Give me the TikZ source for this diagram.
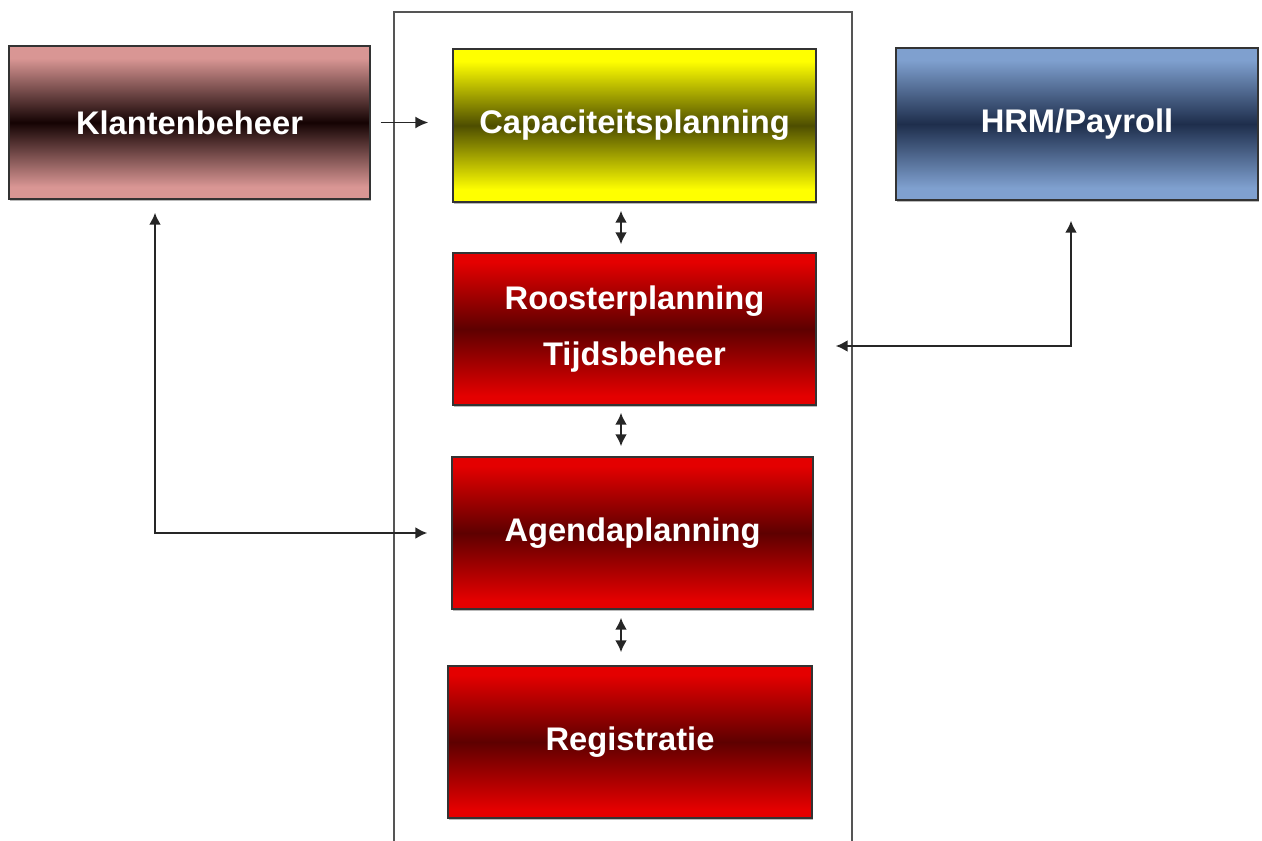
\documentclass[tikz,border=0pt]{standalone}
\usepackage{fontspec}
\setmainfont{Liberation Sans}
\usetikzlibrary{arrows.meta,shadows}

\definecolor{roze}{HTML}{D99694}
\definecolor{rozedonker}{HTML}{140303}
\definecolor{geel}{HTML}{FFFF00}
\definecolor{geeldonker}{HTML}{4E4E00}
\definecolor{blauw}{HTML}{7FA0CF}
\definecolor{blauwdonker}{HTML}{1E2E4C}
\definecolor{rood}{HTML}{E40000}
\definecolor{rooddonker}{HTML}{5E0000}
\definecolor{kader}{HTML}{555555}

% verloop: licht aan de randen, donker in het midden
\pgfdeclareverticalshading{bandroze}{100bp}{color(0bp)=(roze); color(29bp)=(roze); color(50bp)=(rozedonker); color(71bp)=(roze); color(100bp)=(roze)}
\pgfdeclareverticalshading{bandgeel}{100bp}{color(0bp)=(geel); color(29bp)=(geel); color(50bp)=(geeldonker); color(71bp)=(geel); color(100bp)=(geel)}
\pgfdeclareverticalshading{bandblauw}{100bp}{color(0bp)=(blauw); color(29bp)=(blauw); color(50bp)=(blauwdonker); color(71bp)=(blauw); color(100bp)=(blauw)}
\pgfdeclareverticalshading{bandrood}{100bp}{color(0bp)=(rood); color(28bp)=(rood); color(50bp)=(rooddonker); color(72bp)=(rood); color(100bp)=(rood)}

\begin{document}
\begin{tikzpicture}[x=0.02cm, y=-0.02cm,
    blok/.style={draw=black!80, line width=0.8pt, minimum width=7.24cm, minimum height=3.04cm,
      text=white, align=center, font=\fontsize{18.6}{32}\selectfont\bfseries,
      drop shadow={shadow xshift=0.5pt, shadow yshift=-1pt, fill=black!55}},
    pijl/.style={draw=black!85, line width=1.1pt, -{Latex[length=2.6mm,width=2.4mm]}},
    dubbel/.style={draw=black!85, line width=1.3pt, {Latex[length=2.4mm,width=2.4mm]}-{Latex[length=2.4mm,width=2.4mm]}}]

  \useasboundingbox (0,0) rectangle (1262,841);

  % kader om de planningsmodules
  \draw[kader, line width=1.6pt] (394,841) -- (394,12) -- (852,12) -- (852,841);

  % blokken
  \node[blok, minimum width=7.22cm, minimum height=3.06cm, shading=bandroze] (klant) at (189.5,122.5) {Klantenbeheer};
  \node[blok, minimum width=7.26cm, minimum height=3.06cm, shading=bandgeel] (capac) at (634.5,125.5) {Capaciteitsplanning};
  \node[blok, shading=bandblauw] (hrm) at (1077,124) {HRM/Payroll};
  \node[blok, minimum width=7.26cm, shading=bandrood] (rooster) at (634.5,329) {Roosterplanning\\Tijdsbeheer};
  \node[blok, minimum width=7.22cm, shading=bandrood] (agenda) at (632.5,533) {Agendaplanning};
  \node[blok, minimum width=7.28cm, shading=bandrood] (regis) at (630,742) {Registratie};

  % verbindingen
  \draw[pijl, shorten <=0.2cm, shorten >=0.48cm] (klant.east) -- (capac.west |- klant.east);
  \draw[dubbel, shorten <=0.16cm, shorten >=0.16cm] (capac.south -| 621,0) -- (rooster.north -| 621,0);
  \draw[dubbel, shorten <=0.14cm, shorten >=0.2cm] (rooster.south -| 621,0) -- (agenda.north -| 621,0);
  \draw[dubbel, shorten <=0.16cm, shorten >=0.26cm] (agenda.south -| 621,0) -- (regis.north -| 621,0);
  \draw[dubbel, shorten <=0.26cm, shorten >=0.48cm] (klant.south -| 155,0) |- (agenda.west);
  \draw[dubbel, shorten <=0.4cm, shorten >=0.38cm] (hrm.south -| 1071,0) |- (rooster.east |- 0,346);
\end{tikzpicture}
\end{document}
